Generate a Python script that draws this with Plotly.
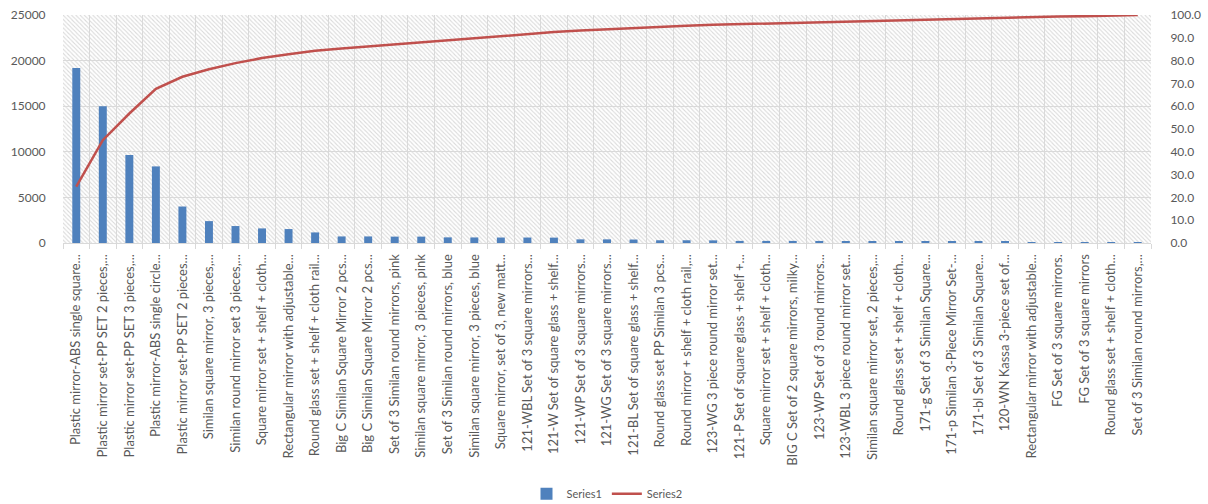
import plotly.graph_objects as go

# Product names (axis labels, shortened as shown on the axis)
products = [
    "Plastic mirror-ABS single square...",
    "Plastic mirror set-PP SET 2 pieces,...",
    "Plastic mirror set-PP SET 3 pieces,...",
    "Plastic mirror-ABS single circle...",
    "Plastic mirror set-PP SET 2 pieces...",
    "Similan square mirror, 3 pieces,...",
    "Similan round mirror set 3 pieces,...",
    "Square mirror set + shelf + cloth...",
    "Rectangular mirror with adjustable...",
    "Round glass set + shelf + cloth rail...",
    "Big C Similan Square Mirror 2 pcs...",
    "Big C Similan Square Mirror 2 pcs...",
    "Set of 3 Similan round mirrors, pink",
    "Similan square mirror, 3 pieces, pink",
    "Set of 3 Similan round mirrors, blue",
    "Similan square mirror, 3 pieces, blue",
    "Square mirror, set of 3, new matt...",
    "121-WBL Set of 3 square mirrors...",
    "121-W Set of square glass + shelf...",
    "121-WP Set of 3 square mirrors...",
    "121-WG Set of 3 square mirrors...",
    "121-BL Set of square glass + shelf...",
    "Round glass set PP Similan 3 pcs...",
    "Round mirror + shelf + cloth rail,...",
    "123-WG 3 piece round mirror set...",
    "121-P Set of square glass + shelf +...",
    "Square mirror set + shelf + cloth...",
    "BIG C Set of 2 square mirrors, milky...",
    "123-WP Set of 3 round mirrors...",
    "123-WBL 3 piece round mirror set...",
    "Similan square mirror set, 2 pieces,...",
    "Round glass set + shelf + cloth...",
    "171-g Set of 3 Similan Square...",
    "171-p Similan 3-Piece Mirror Set-...",
    "171-bl Set of 3 Similan Square...",
    "120-WN Kassa 3-piece set of...",
    "Rectangular mirror with adjustable...",
    "FG Set of 3 square mirrors.",
    "FG Set of 3 square mirrors",
    "Round glass set + shelf + cloth...",
    "Set of 3 Similan round mirrors,...",
]

# Series1: sales per product
series1 = [19200, 15000, 9650, 8400, 4000, 2400, 1860, 1600, 1530, 1160,
           720, 720, 700, 700, 620, 610, 600, 600, 590, 400,
           400, 380, 300, 300, 290, 230, 230, 230, 225, 220,
           220, 220, 215, 210, 120, 115, 110, 110, 100, 100, 90]

# Series2: cumulative share (%)
series2 = [24.7, 45.1, 56.8, 67.6, 72.9, 76.2, 78.9, 81.1, 82.8, 84.3,
           85.3, 86.2, 87.2, 88.2, 89.1, 90.0, 90.9, 91.7, 92.5, 93.2,
           93.8, 94.4, 94.9, 95.3, 95.7, 96.0, 96.3, 96.6, 96.9, 97.2,
           97.5, 97.8, 98.1, 98.4, 98.7, 98.9, 99.1, 99.3, 99.5, 99.8, 100.0]

left_ticks = [0, 5000, 10000, 15000, 20000, 25000]
right_ticks = [0, 10, 20, 30, 40, 50, 60, 70, 80, 90, 100]

idx = list(range(len(products)))
boundaries = [i - 0.5 for i in range(len(products) + 1)]

TEXT = "#595959"
GRID = "#d9d9d9"
FONT = "Lato, Carlito, Calibri, sans-serif"

fig = go.Figure()

# diagonal hatch filling the plot area (transparent between stripes)
fig.add_trace(go.Bar(
    x=[0.5], y=[1], width=[1], xaxis="x", yaxis="y",
    marker=dict(color="#dadada", line=dict(width=0),
                pattern=dict(shape="\\", size=3, solidity=0.35, fillmode="replace")),
    showlegend=False, hoverinfo="skip",
))

fig.add_trace(go.Bar(
    x=idx, y=series1, name="Series1", xaxis="x2", yaxis="y2",
    marker=dict(color="#4F81BD", line=dict(width=0)),
))

fig.add_trace(go.Scatter(
    x=idx, y=series2, name="Series2", xaxis="x2", yaxis="y3",
    mode="lines", line=dict(color="#C0504D", width=2.5),
))

fig.update_layout(
    width=1208, height=504,
    margin=dict(l=63, r=57, t=15, b=261, autoexpand=False),
    paper_bgcolor="white", plot_bgcolor="white",
    font=dict(family=FONT, color=TEXT, size=12),
    bargap=0.7,
    showlegend=True,
    legend=dict(orientation="h", x=0.5, xanchor="center", y=-1.1, yanchor="middle",
                font=dict(size=11, color=TEXT), itemwidth=30, tracegroupgap=0),
    xaxis=dict(range=[0, 1], visible=False, fixedrange=True),
    yaxis=dict(range=[0, 1], visible=False, fixedrange=True),
    xaxis2=dict(
        overlaying="x", anchor="y2", automargin=False,
        range=[-0.5, len(products) - 0.5],
        tickmode="array", tickvals=idx, ticktext=products,
        tickangle=-90, tickfont=dict(size=13, color=TEXT),
        ticks="outside", ticklen=5, tickcolor="rgba(0,0,0,0)",
        showgrid=False, zeroline=False,
        showline=True, linecolor=GRID, linewidth=1,
        minor=dict(tickmode="array", tickvals=boundaries, ticks="outside",
                   ticklen=5, tickcolor=GRID, showgrid=True, gridcolor=GRID, gridwidth=1),
    ),
    yaxis2=dict(
        overlaying="y", anchor="x2", side="left", automargin=False,
        range=[0, 25000], tickmode="array", tickvals=left_ticks, tickformat="d",
        tickfont=dict(size=12, color=TEXT),
        ticks="outside", ticklen=14, tickcolor="rgba(0,0,0,0)",
        showgrid=True, gridcolor=GRID, gridwidth=1, zeroline=False,
        showline=False,
    ),
    yaxis3=dict(
        overlaying="y", anchor="x2", side="right", automargin=False,
        range=[0, 100], tickmode="array", tickvals=right_ticks, tickformat=".1f",
        tickfont=dict(size=12, color=TEXT),
        ticks="outside", ticklen=16, tickcolor="rgba(0,0,0,0)",
        showgrid=False, zeroline=False, showline=False,
    ),
)

fig.write_html("out.html")
